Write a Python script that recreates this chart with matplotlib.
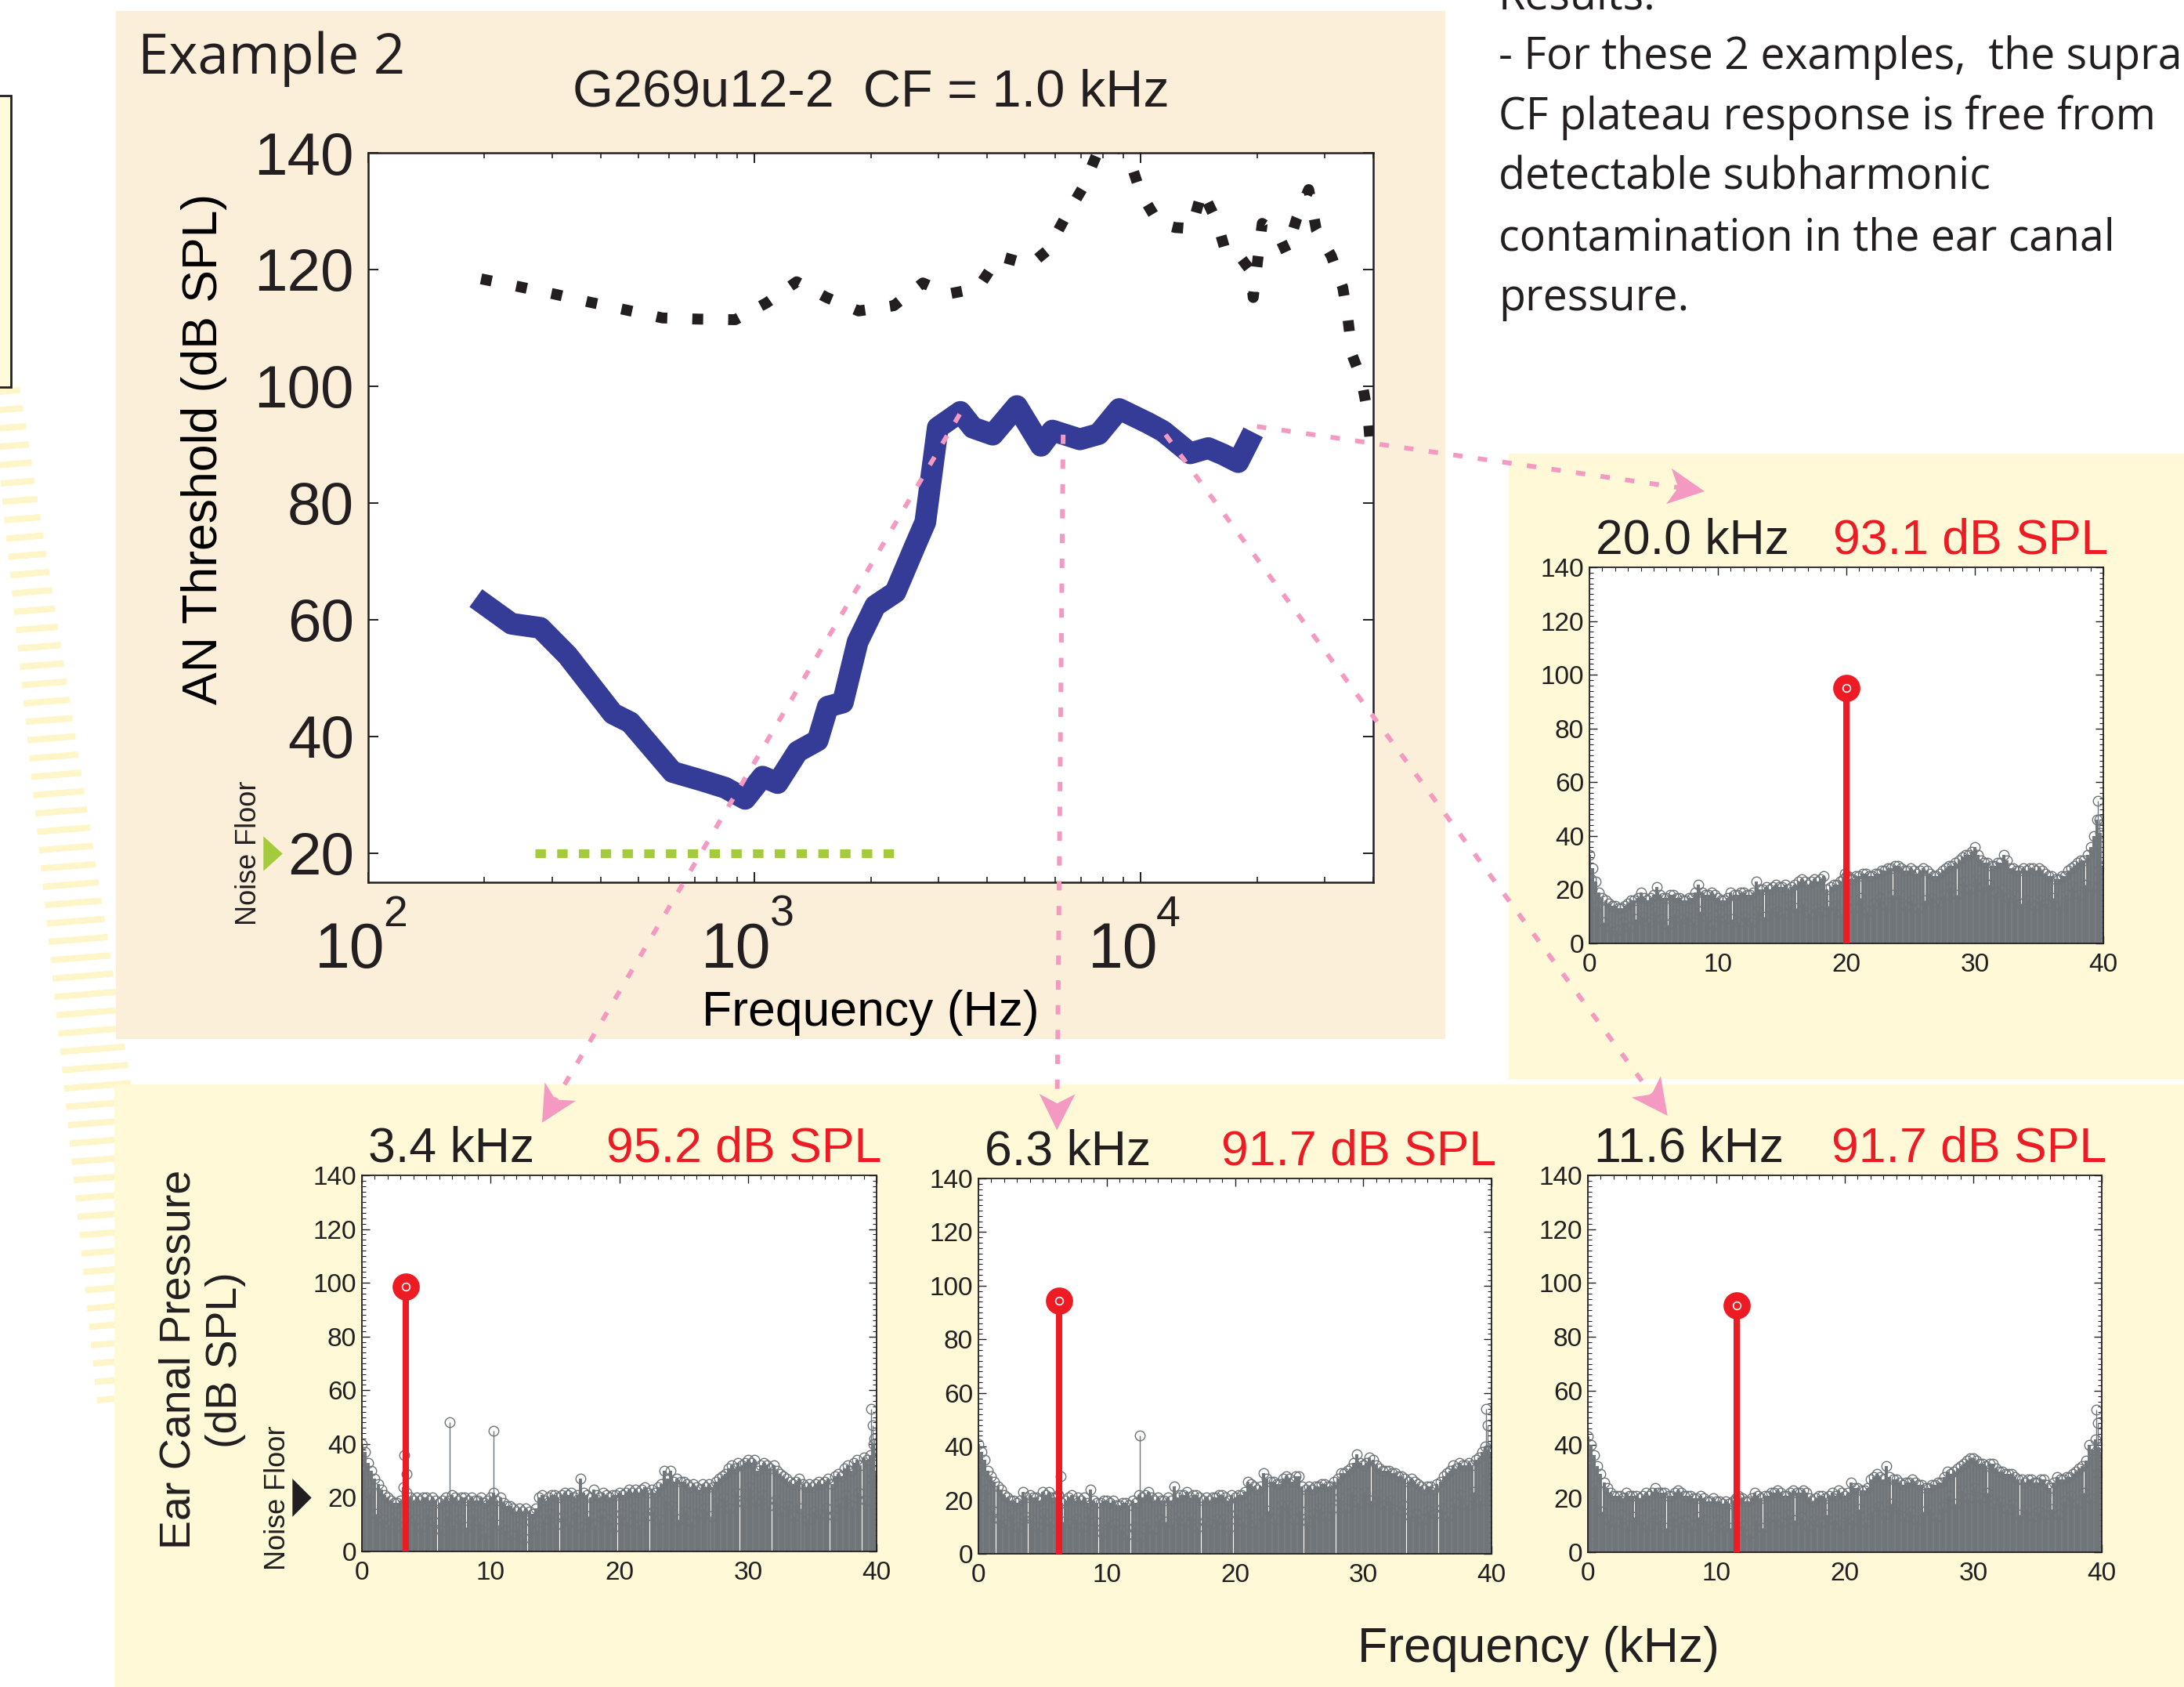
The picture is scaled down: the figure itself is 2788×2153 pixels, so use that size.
import numpy as np
import matplotlib
matplotlib.use("Agg")
import matplotlib.pyplot as plt
from matplotlib.patches import Rectangle, Polygon
from matplotlib.transforms import blended_transform_factory, ScaledTranslation
from matplotlib.ticker import MultipleLocator, LogLocator, NullFormatter

# ---------------------------------------------------------------- data
example_label = "Example 2"
unit_title = "G269u12-2  CF = 1.0 kHz"
results_lines = ["Results:",
                 "- For these 2 examples,  the supra",
                 "CF plateau response is free from",
                 "detectable subharmonic",
                 "contamination in the ear canal",
                 "pressure."]

# AN threshold tuning curve (blue) and max-output curve (black dotted)
an_blue_hz = [190, 235, 279, 328, 430, 477, 614, 735, 840, 946, 1050, 1148, 1294,
              1458, 1549, 1694, 1850, 2055, 2317, 2611, 2769, 2983, 3413, 3676,
              4140, 4780, 5520, 5910, 6960, 7780, 8800, 10450, 11430, 13430,
              14960, 16360, 17880, 19560]
an_blue_db = [63.7, 59.3, 58.6, 53.9, 43.9, 42.4, 33.9, 32.4, 31.2, 29.3, 33.1, 32.0,
              37.4, 39.3, 45.1, 45.8, 56.2, 62.4, 64.7, 72.8, 76.7, 92.9, 95.6, 92.9,
              91.7, 96.6, 89.8, 92.4, 90.9, 91.8, 96.1, 93.7, 92.3, 88.5, 89.4, 88.3,
              87.0, 92.1]
an_black_hz = [196, 244, 303, 375, 463, 578, 717, 892, 1076, 1286, 1538, 1862, 2295,
               2730, 3170, 3790, 4300, 5170, 5740, 6340, 7080, 7670, 8400, 9290,
               10000, 11140, 12290, 13540, 14420, 15770, 16640, 18030, 19210, 19560,
               20090, 20640, 22580, 23820, 25360, 27230, 28490, 31170, 33360, 34390,
               35300, 37250, 38730, 39450]
an_black_db = [118.4, 117.1, 115.8, 114.4, 113.1, 111.7, 111.5, 111.4, 114.3, 117.9,
               115.2, 112.9, 113.8, 117.7, 115.8, 116.8, 122.3, 120.8, 123.3, 128.6,
               134.0, 139.5, 142.0, 139.5, 133.1, 127.9, 127.2, 127.0, 133.5, 128.1,
               122.8, 122.3, 119.9, 115.2, 121.6, 127.9, 126.3, 123.0, 128.8, 133.7,
               126.8, 122.3, 116.9, 111.6, 105.3, 101.3, 95.3, 88.8]
noise_floor_hz = [270, 2350]
noise_floor_db = [20, 20]

main_xtick_exp = [2, 3, 4]
main_yticks = [20, 40, 60, 80, 100, 120, 140]
spec_xticks = [0, 10, 20, 30, 40]
spec_yticks = [0, 20, 40, 60, 80, 100, 120, 140]

# probe tones
tone_khz = [3.4, 6.3, 11.6, 20.0]
tone_label_db = [95.2, 91.7, 91.7, 93.1]
tone_peak_db = [98.7, 94.3, 91.7, 95.2]

# ear-canal spectra: upper level of each 0.25-kHz bin from 0 to 40 kHz (8 per row)
bin_khz = 0.25
spec_3k4 = [40, 37, 33, 30, 27, 25, 23, 21,
            20, 19, 18, 18, 19, 24, 22, 20,
            19, 20, 19, 20, 20, 19, 20, 19,
            18, 19, 20, 19, 21, 20, 19, 20,
            20, 19, 20, 19, 19, 20, 18, 19,
            20, 22, 19, 20, 18, 17, 17, 16,
            15, 16, 15, 16, 15, 14, 16, 20,
            21, 19, 20, 21, 21, 20, 21, 22,
            21, 22, 20, 21, 27, 22, 21, 20,
            23, 21, 20, 22, 21, 20, 21, 21,
            22, 21, 22, 23, 22, 23, 22, 23,
            24, 22, 23, 22, 24, 25, 30, 27,
            30, 26, 27, 26, 26, 25, 24, 25,
            24, 23, 25, 24, 25, 24, 26, 27,
            28, 29, 31, 32, 31, 33, 32, 33,
            34, 33, 34, 30, 32, 33, 32, 31,
            32, 30, 29, 28, 27, 26, 25, 26,
            27, 25, 24, 25, 24, 25, 26, 25,
            26, 27, 25, 28, 29, 28, 31, 32,
            30, 33, 34, 32, 35, 34, 36, 40,
            30]
spec_6k3 = [41, 38, 35, 31, 29, 27, 25, 24,
            22, 21, 20, 20, 19, 20, 23, 21,
            22, 21, 21, 20, 23, 22, 23, 21,
            21, 22, 19, 20, 21, 22, 20, 21,
            20, 21, 19, 24, 20, 19, 19, 20,
            20, 19, 20, 18, 18, 19, 19, 18,
            20, 19, 22, 21, 22, 23, 21, 20,
            21, 20, 20, 21, 20, 25, 21, 22,
            22, 23, 21, 22, 22, 21, 20, 21,
            20, 21, 21, 22, 22, 21, 20, 22,
            21, 22, 22, 23, 27, 26, 25, 24,
            25, 30, 28, 27, 27, 26, 26, 28,
            29, 28, 27, 29, 29, 25, 24, 25,
            24, 25, 25, 26, 26, 25, 25, 27,
            28, 30, 30, 31, 32, 34, 37, 34,
            33, 34, 36, 35, 33, 32, 31, 31,
            31, 30, 30, 29, 29, 28, 27, 28,
            27, 26, 25, 24, 25, 25, 24, 26,
            27, 29, 30, 31, 33, 32, 34, 33,
            33, 34, 33, 35, 36, 38, 40, 39,
            38]
spec_11k6 = [43, 40, 36, 32, 29, 26, 24, 22,
             21, 21, 21, 20, 22, 21, 21, 21,
             20, 21, 22, 21, 22, 24, 22, 22,
             22, 21, 21, 22, 23, 22, 21, 21,
             21, 20, 20, 21, 20, 19, 19, 20,
             19, 19, 18, 19, 18, 19, 19, 20,
             20, 19, 19, 20, 22, 21, 20, 21,
             21, 22, 22, 23, 22, 21, 21, 22,
             23, 22, 22, 23, 22, 20, 19, 20,
             21, 21, 20, 21, 22, 21, 23, 22,
             21, 22, 26, 24, 24, 23, 23, 24,
             27, 28, 29, 28, 27, 32, 28, 27,
             27, 26, 25, 26, 26, 27, 26, 25,
             25, 24, 24, 25, 25, 26, 26, 28,
             30, 29, 30, 31, 32, 33, 34, 35,
             35, 34, 33, 33, 32, 33, 33, 31,
             30, 30, 29, 29, 29, 28, 27, 27,
             26, 27, 27, 26, 26, 27, 27, 25,
             24, 26, 28, 27, 27, 28, 28, 29,
             30, 31, 32, 34, 40, 38, 42, 39,
             37]
spec_20k0 = [33, 28, 23, 19, 17, 16, 15, 14,
             14, 13, 13, 14, 15, 16, 16, 17,
             19, 17, 16, 17, 18, 21, 18, 17,
             17, 18, 18, 17, 17, 16, 16, 17,
             17, 19, 22, 19, 18, 18, 19, 18,
             17, 16, 16, 17, 19, 18, 18, 19,
             19, 18, 18, 19, 23, 20, 20, 21,
             20, 21, 22, 21, 21, 22, 20, 21,
             22, 23, 24, 23, 22, 23, 24, 23,
             24, 25, 20, 21, 22, 22, 23, 24,
             25, 24, 24, 25, 25, 26, 26, 25,
             25, 26, 26, 27, 27, 28, 28, 29,
             29, 28, 27, 27, 28, 27, 26, 27,
             28, 27, 26, 25, 25, 26, 27, 28,
             29, 29, 30, 31, 32, 33, 33, 34,
             36, 33, 31, 30, 30, 29, 29, 30,
             30, 33, 31, 28, 28, 27, 27, 28,
             27, 28, 28, 27, 28, 27, 26, 25,
             25, 24, 24, 25, 25, 27, 28, 29,
             30, 31, 31, 33, 36, 40, 46, 41,
             29]
# lower-lying bins seen inside the noise band (0.125 + 0.5*k kHz, 8 per row)
inner_first_khz = 0.125
inner_step_khz = 0.5
inner_3k4 = [30, 22, 14, 12, 10, 13, 9, 15,
             12, 9, 14, 11, 8, 13, 10, 12,
             9, 14, 11, 7, 13, 10, 8, 6,
             9, 5, 11, 8, 12, 14, 10, 13,
             11, 15, 9, 13, 10, 14, 12, 9,
             14, 11, 16, 10, 13, 15, 12, 19,
             17, 12, 15, 11, 14, 16, 13, 18,
             20, 16, 22, 18, 24, 19, 21, 17,
             19, 15, 17, 13, 16, 12, 15, 14,
             16, 13, 18, 21, 17, 22, 19, 27]
inner_6k3 = [31, 24, 16, 13, 11, 15, 10, 14,
             13, 10, 15, 12, 9, 12, 11, 13,
             10, 15, 12, 8, 12, 11, 9, 7,
             10, 6, 12, 9, 13, 12, 11, 14,
             12, 14, 10, 12, 11, 13, 13, 10,
             15, 12, 17, 11, 14, 16, 13, 18,
             18, 13, 16, 12, 15, 17, 14, 17,
             21, 17, 23, 19, 23, 20, 22, 18,
             20, 16, 18, 14, 15, 13, 16, 15,
             17, 14, 19, 22, 18, 23, 20, 28]
inner_11k6 = [33, 25, 15, 12, 11, 14, 10, 13,
              12, 10, 14, 12, 9, 13, 11, 12,
              10, 13, 12, 8, 12, 10, 9, 8,
              10, 7, 12, 9, 13, 13, 11, 14,
              12, 13, 10, 12, 11, 14, 12, 10,
              14, 12, 16, 11, 15, 17, 14, 18,
              17, 13, 15, 12, 15, 16, 13, 17,
              21, 18, 23, 20, 24, 20, 22, 18,
              19, 16, 18, 14, 16, 13, 15, 14,
              16, 14, 19, 21, 18, 22, 20, 29]
inner_20k0 = [24, 14, 8, 6, 5, 8, 6, 9,
              10, 8, 12, 9, 7, 11, 9, 10,
              8, 12, 10, 7, 11, 9, 9, 8,
              10, 8, 12, 10, 13, 12, 11, 14,
              13, 15, 11, 13, 12, 14, 14, 11,
              16, 13, 17, 12, 15, 17, 14, 18,
              18, 14, 16, 13, 16, 17, 15, 18,
              21, 18, 23, 20, 24, 21, 22, 19,
              20, 17, 18, 15, 16, 14, 16, 15,
              17, 14, 18, 21, 18, 22, 21, 27]
# isolated components (harmonics, leakage, edge peaks)
extra_3k4_khz = [3.3, 3.5, 6.8, 10.2, 39.6, 39.7, 39.8]
extra_3k4_db = [36, 29, 48, 45, 53, 47, 42]
extra_6k3_khz = [6.2, 6.4, 12.6, 39.6, 39.7]
extra_6k3_db = [22, 29, 44, 54, 48]
extra_11k6_khz = [11.5, 11.7, 39.6, 39.7]
extra_11k6_db = [20, 21, 53, 48]
extra_20k0_khz = [19.9, 20.1, 39.6, 39.7]
extra_20k0_db = [26, 25, 53, 46]

# ---------------------------------------------------------------- style
W, H, DPI = 2788, 2153, 100
BLUE = "#353C97"
INK = "#231F20"
GREEN = "#A3CB3B"
RED = "#ED1C24"
GRAY = "#6F7579"
PINK = "#F49AC2"
BEIGE = "#FCEFDA"
YELLOW = "#FFF9D7"
STRIPE = "#FEF5C8"
SANS = ["Liberation Sans", "DejaVu Sans"]
MYRIAD = ["Open Sans", "DejaVu Sans"]

plt.rcParams["font.family"] = SANS
plt.rcParams["text.color"] = INK
plt.rcParams["axes.edgecolor"] = INK
plt.rcParams["xtick.color"] = INK
plt.rcParams["ytick.color"] = INK

fig = plt.figure(figsize=(W / DPI, H / DPI), dpi=DPI)


def px_axes(l, t, r, b, **kw):
    return fig.add_axes([l / W, 1 - b / H, (r - l) / W, (b - t) / H], **kw)


# background decoration layer (pixel coordinates)
bg = px_axes(0, 0, W, H, zorder=-5)
bg.set_xlim(0, W); bg.set_ylim(H, 0); bg.axis("off")
for y0 in np.arange(500, 1800, 23.4):
    xl = max(-2.0, (y0 - 610) * 0.105)
    xr = 25 + (y0 - 496) * 0.159
    bg.plot([xl, xr], [y0, y0 - (xr - xl) * 0.08], color=STRIPE, lw=5.8,
            solid_capstyle="butt", zorder=1)
bg.add_patch(Rectangle((-10, 122), 24, 372, facecolor="#FFFAD9", edgecolor=INK,
                       lw=2.0, zorder=2))
bg.add_patch(Rectangle((148, 14), 1697, 1312, facecolor=BEIGE, edgecolor="none", zorder=3))
bg.add_patch(Rectangle((1926, 579), 900, 798, facecolor=YELLOW, edgecolor="none", zorder=3))
bg.add_patch(Rectangle((146, 1384), 2700, 800, facecolor=YELLOW, edgecolor="none", zorder=3))

# ---------------------------------------------------------------- main AN panel
ax = px_axes(470, 195, 1753, 1126)
ax.set_xscale("log")
ax.set_xlim(100, 40000)
ax.set_ylim(15, 140)
ax.plot(an_black_hz, an_black_db, color=INK, lw=10, dashes=(1.0, 2.3),
        dash_capstyle="butt", zorder=2)
ax.plot(an_blue_hz, an_blue_db, color=BLUE, lw=20, solid_joinstyle="round",
        solid_capstyle="butt", zorder=3)
ax.plot(noise_floor_hz, noise_floor_db, color=GREEN, lw=8, dashes=(1.2, 1.3),
        dash_capstyle="butt", zorder=2)
ax.set_xticks([10.0 ** e for e in main_xtick_exp])
ax.set_xticklabels(["10"] * len(main_xtick_exp))
ax.xaxis.set_minor_locator(LogLocator(base=10, subs=np.arange(2, 10)))
ax.xaxis.set_minor_formatter(NullFormatter())
ax.set_yticks(main_yticks)
ax.tick_params(which="both", direction="in", top=True, right=True)
ax.tick_params(which="major", length=9.5, width=1.4)
ax.tick_params(which="minor", length=5, width=1.2)
ax.tick_params(axis="y", labelsize=55, pad=13)
ax.tick_params(axis="x", labelsize=58, pad=36)
for lab in ax.get_xticklabels():
    lab.set_transform(lab.get_transform() +
                      ScaledTranslation(-0.23, 0, fig.dpi_scale_trans))
xbt = blended_transform_factory(ax.transData, ax.transAxes)
for e in main_xtick_exp:
    ax.annotate(str(e), xy=(10.0 ** e, 0), xycoords=xbt, xytext=(25, -40),
                textcoords="offset points", ha="center", va="baseline", fontsize=40)
for s in ax.spines.values():
    s.set_linewidth(1.8)
ax.set_title(unit_title, fontsize=48, pad=43)
ax.set_ylabel("AN Threshold (dB SPL)", fontsize=45, va="center")
ax.yaxis.set_label_coords(-0.163, 0.594)
ax.set_xlabel("Frequency (Hz)", fontsize=45, va="center")
ax.xaxis.set_label_coords(0.5, -0.179)
bt = blended_transform_factory(ax.transAxes, ax.transData)
ax.plot([-0.095], [noise_floor_db[0]], transform=bt, clip_on=False, ls="none",
        marker=[(-0.55, -1), (0.55, 0), (-0.55, 1), (-0.55, -1)], ms=32,
        color=GREEN, mew=0)
ax.text(-0.1185, noise_floor_db[0], "Noise Floor", transform=bt, rotation=90,
        ha="center", va="center", fontsize=26)

# ---------------------------------------------------------------- spectra
panel_rects = [(462, 1500, 1119, 1980), (1249, 1504, 1904, 1983),
               (2027, 1500, 2683, 1981), (2029, 724, 2685, 1204)]
spectra = [spec_3k4, spec_6k3, spec_11k6, spec_20k0]
inners = [inner_3k4, inner_6k3, inner_11k6, inner_20k0]
extras = [(extra_3k4_khz, extra_3k4_db), (extra_6k3_khz, extra_6k3_db),
          (extra_11k6_khz, extra_11k6_db), (extra_20k0_khz, extra_20k0_db)]
arrow_tip_frac = [(0.350, 1.140), (0.153, 1.129), (0.155, 1.158), (0.224, 1.202)]


def gray_stem(a, x, y, lw):
    st = a.stem(x, y, basefmt=" ")
    st.stemlines.set(color=GRAY, linewidth=lw)
    st.markerline.set(marker="o", markerfacecolor="none", markeredgecolor=GRAY,
                      markersize=9, markeredgewidth=1.0)
    return st


panels = []
for rect, levels, inner, (ek, ed), fk, fpk, fdb in zip(
        panel_rects, spectra, inners, extras, tone_khz, tone_peak_db, tone_label_db):
    a = px_axes(*rect)
    a.set_xlim(0, 40)
    a.set_ylim(0, 140)
    gray_stem(a, np.arange(len(levels)) * bin_khz, levels, 2.8)
    gray_stem(a, inner_first_khz + np.arange(len(inner)) * inner_step_khz, inner, 2.0)
    gray_stem(a, ek, ed, 1.0)
    a.vlines([fk], 0, [fpk], color=RED, lw=5.8, zorder=4)
    a.plot([fk], [fpk], "o", ms=25, color=RED, mew=0, zorder=5)
    a.plot([fk], [fpk], "o", ms=7, mfc="none", mec="white", mew=1.2, zorder=6)
    a.set_xticks(spec_xticks)
    a.set_yticks(spec_yticks)
    a.xaxis.set_minor_locator(MultipleLocator(1))
    a.yaxis.set_minor_locator(MultipleLocator(2))
    a.tick_params(which="both", direction="in", top=True, right=True)
    a.tick_params(which="major", length=7, width=1.0, labelsize=24)
    a.tick_params(which="minor", length=3.5, width=0.8)
    a.tick_params(axis="y", pad=5)
    a.tick_params(axis="x", pad=8.5)
    for s in a.spines.values():
        s.set_linewidth(1.3)
    a.text(0.012, 1.037, f"{fk:.1f} kHz", transform=a.transAxes, ha="left",
           va="baseline", fontsize=45)
    a.text(1.01, 1.037, f"{fdb:.1f} dB SPL", transform=a.transAxes, ha="right",
           va="baseline", fontsize=45, color=RED)
    panels.append(a)

p1 = panels[0]
bt1 = blended_transform_factory(p1.transAxes, p1.transData)
p1.plot([-0.117], [noise_floor_db[0]], transform=bt1, clip_on=False, ls="none",
        marker=[(-0.5, -1), (0.5, 0), (-0.5, 1), (-0.5, -1)], ms=35, color=INK, mew=0)
p1.text(-0.163, noise_floor_db[0], "Noise Floor", transform=bt1, rotation=90,
        ha="center", va="center", fontsize=26)
p1.text(-0.31, 0.51, "Ear Canal Pressure\n(dB SPL)", transform=p1.transAxes,
        rotation=90, ha="center", va="center", multialignment="center",
        fontsize=40, linespacing=1.2)

# ---------------------------------------------------------------- overlay: text + arrows
ov = px_axes(0, 0, W, H, zorder=10)
ov.set_xlim(0, W); ov.set_ylim(H, 0); ov.axis("off")
to_px = ov.transData.inverted()

ov.text(1964, 2105, "Frequency (kHz)", ha="center", va="center", fontsize=45)
ov.text(176, 94, example_label, ha="left", va="baseline", fontsize=51, family=MYRIAD)
for i, line in enumerate(results_lines):
    ov.text(1913, 11 + 77 * i, line, ha="left", va="baseline", fontsize=40,
            family=MYRIAD)

L_HEAD, W_HEAD, NOTCH = 46, 23, 12
for fk, fdb, a, (fx, fy) in zip(tone_khz, tone_label_db, panels, arrow_tip_frac):
    x0, y0 = to_px.transform(ax.transData.transform((fk * 1000, fdb)))
    x1, y1 = to_px.transform(a.transAxes.transform((fx, fy)))
    u = np.array([x1 - x0, y1 - y0]); u = u / np.hypot(*u)
    n = np.array([-u[1], u[0]])
    tip = np.array([x1, y1])
    back = tip - (L_HEAD - NOTCH) * u
    ov.plot([x0, back[0]], [y0, back[1]], color=PINK, lw=4.3, dashes=(2.0, 3.3),
            dash_capstyle="butt", zorder=1)
    head = [tip, tip - L_HEAD * u + W_HEAD * n, back, tip - L_HEAD * u - W_HEAD * n]
    ov.add_patch(Polygon(head, closed=True, facecolor=PINK, edgecolor="none", zorder=2))

fig.savefig("out.png", dpi=DPI)
